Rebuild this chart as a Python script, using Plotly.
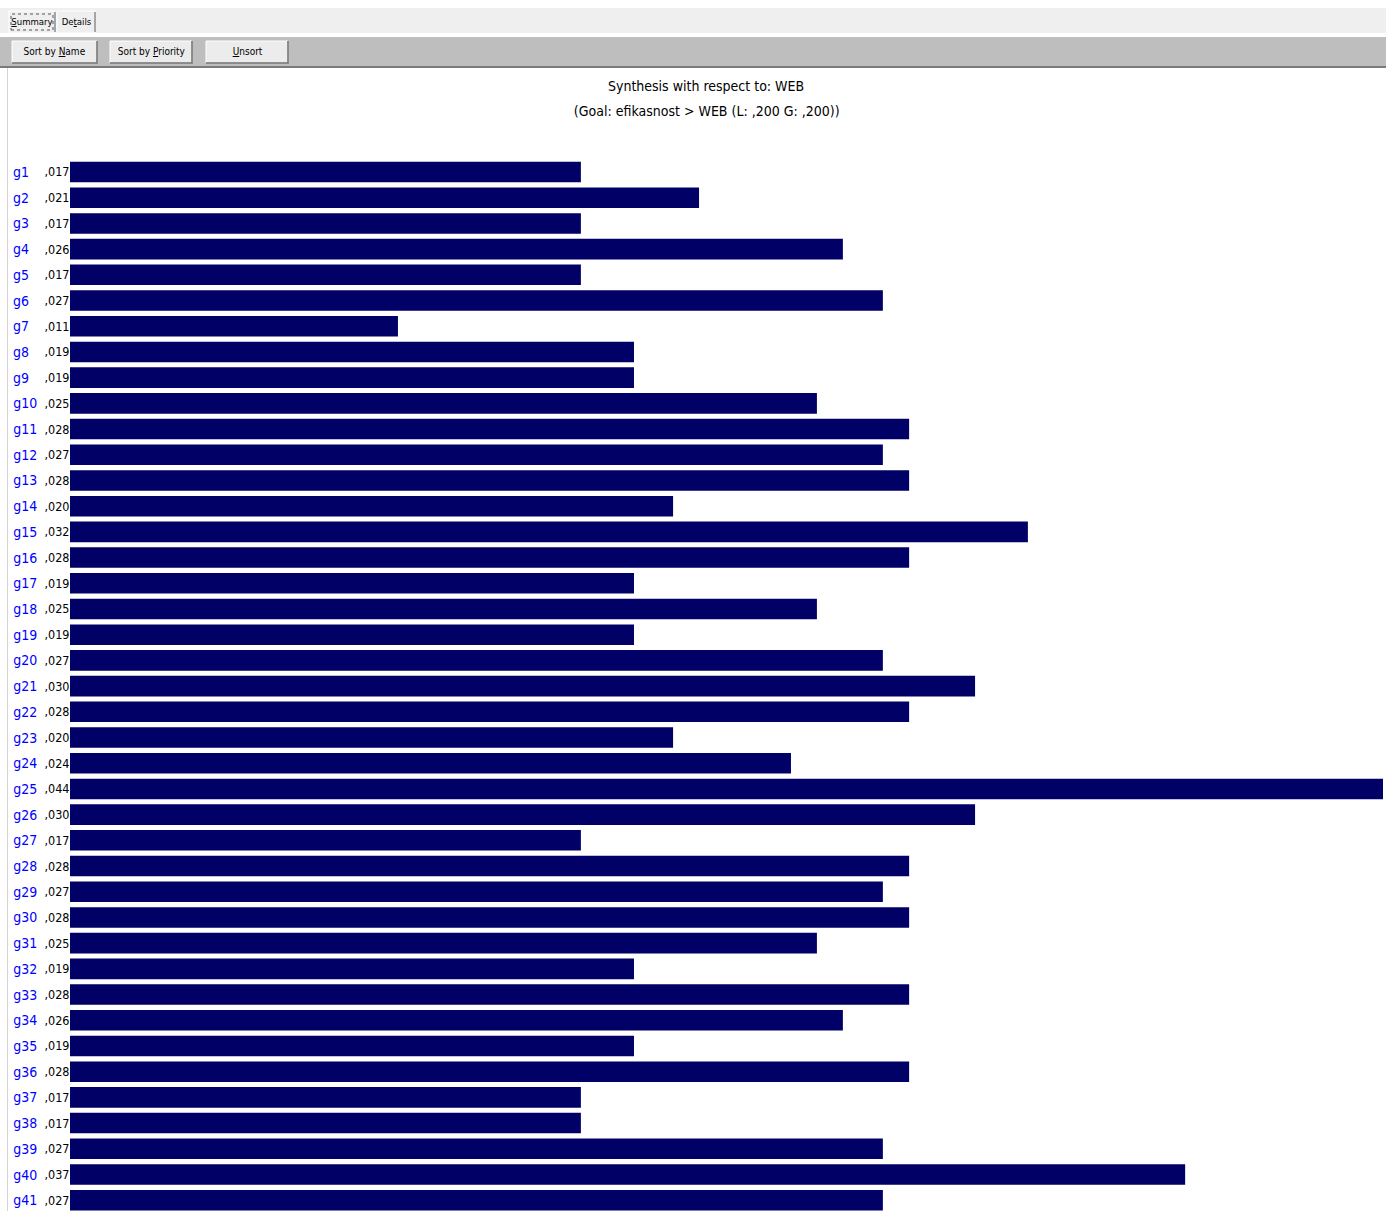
import plotly.graph_objects as go

# ---- data ----
names = [f"g{i}" for i in range(1, 42)]
values = [0.01712, 0.02108, 0.01712, 0.02590, 0.01712, 0.02724, 0.01099, 0.01890,
          0.01890, 0.02503, 0.02812, 0.02724, 0.02812, 0.02021, 0.03210, 0.02812,
          0.01890, 0.02503, 0.01890, 0.02724, 0.03033, 0.02812, 0.02021, 0.02416,
          0.04400, 0.03033, 0.01712, 0.02812, 0.02724, 0.02812, 0.02503, 0.01890,
          0.02812, 0.02590, 0.01890, 0.02812, 0.01712, 0.01712, 0.02724, 0.03737,
          0.02724]
value_labels = [",017", ",021", ",017", ",026", ",017", ",027", ",011", ",019",
                ",019", ",025", ",028", ",027", ",028", ",020", ",032", ",028",
                ",019", ",025", ",019", ",027", ",030", ",028", ",020", ",024",
                ",044", ",030", ",017", ",028", ",027", ",028", ",025", ",019",
                ",028", ",026", ",019", ",028", ",017", ",017", ",027", ",037",
                ",027"]
title_line1 = "Synthesis with respect to: WEB"
title_line2 = "(Goal: efikasnost > WEB (L: ,200 G: ,200))"

W, H = 1386, 1211
FONT = "DejaVu Sans, sans-serif"


def px(x):
    return x / W


def py(y):
    return 1 - y / H


fig = go.Figure()
fig.add_trace(go.Bar(
    x=values, y=names, orientation="h",
    marker=dict(color="#000066", line=dict(width=0)),
    width=0.8, hoverinfo="x+y",
))

shapes = []
annotations = []

# header strips
shapes.append(dict(type="rect", xref="paper", yref="paper", x0=0, x1=1, y0=py(33), y1=py(8),
                   fillcolor="#efefef", line=dict(width=0), layer="above"))
shapes.append(dict(type="rect", xref="paper", yref="paper", x0=0, x1=1, y0=py(36), y1=py(33),
                   fillcolor="#ffffff", line=dict(width=0), layer="above"))
shapes.append(dict(type="rect", xref="paper", yref="paper", x0=0, x1=1, y0=py(66), y1=py(37),
                   fillcolor="#bebebe", line=dict(width=0), layer="above"))
shapes.append(dict(type="line", xref="paper", yref="paper", x0=0, x1=1, y0=py(67), y1=py(67),
                   line=dict(color="#7a7a7a", width=2), layer="above"))
# left border of the panel
shapes.append(dict(type="line", xref="paper", yref="paper", x0=px(7.5), x1=px(7.5), y0=0, y1=py(68),
                   line=dict(color="#d4d4d4", width=1), layer="above"))

# tabs
tabs = [("<u>S</u>ummary", 9, 55, True), ("De<u>t</u>ails", 57, 95, False)]
for label, x0, x1, active in tabs:
    shapes.append(dict(type="rect", xref="paper", yref="paper", x0=px(x0), x1=px(x1),
                       y0=py(33), y1=py(11), fillcolor="#efefef",
                       line=dict(color="#ffffff", width=1), layer="above"))
    shapes.append(dict(type="line", xref="paper", yref="paper", x0=px(x1), x1=px(x1),
                       y0=py(32), y1=py(12), line=dict(color="#555555", width=1), layer="above"))
    if active:
        shapes.append(dict(type="rect", xref="paper", yref="paper", x0=px(x0 + 2), x1=px(x1 - 2),
                           y0=py(30), y1=py(14), fillcolor="rgba(0,0,0,0)",
                           line=dict(color="#555555", width=1, dash="dot"), layer="above"))
    annotations.append(dict(xref="paper", yref="paper", x=px((x0 + x1) / 2), y=py(22),
                            text=label, showarrow=False, xanchor="center", yanchor="middle",
                            font=dict(family=FONT, size=9.5, color="#000000")))

# buttons
buttons = [("Sort by <u>N</u>ame", 12, 97), ("Sort by <u>P</u>riority", 110, 192), ("<u>U</u>nsort", 206, 288)]
for label, x0, x1 in buttons:
    shapes.append(dict(type="rect", xref="paper", yref="paper", x0=px(x0), x1=px(x1),
                       y0=py(63), y1=py(41), fillcolor="#ececec",
                       line=dict(color="#ffffff", width=1), layer="above"))
    shapes.append(dict(type="path", xref="paper", yref="paper",
                       path=f"M {px(x0)},{py(63)} L {px(x1)},{py(63)} L {px(x1)},{py(41)}",
                       line=dict(color="#6e6e6e", width=1.5), layer="above"))
    annotations.append(dict(xref="paper", yref="paper", x=px((x0 + x1) / 2), y=py(52),
                            text=label, showarrow=False, xanchor="center", yanchor="middle",
                            font=dict(family=FONT, size=10, color="#000000")))

# titles
annotations.append(dict(xref="paper", yref="paper", x=px(706), y=py(86), text=title_line1,
                        showarrow=False, xanchor="center", yanchor="middle",
                        font=dict(family=FONT, size=14, color="#000000")))
annotations.append(dict(xref="paper", yref="paper", x=px(707), y=py(111), text=title_line2,
                        showarrow=False, xanchor="center", yanchor="middle",
                        font=dict(family=FONT, size=14, color="#000000")))

# row labels
for n, v in zip(names, value_labels):
    annotations.append(dict(xref="paper", yref="y", x=px(10), y=n, text=n, showarrow=False,
                            xanchor="left", yanchor="middle",
                            font=dict(family=FONT, size=14, color="#0000ff")))
    annotations.append(dict(xref="paper", yref="y", x=px(41), y=n, text=v, showarrow=False,
                            xanchor="left", yanchor="middle",
                            font=dict(family=FONT, size=12.5, color="#000000")))

pitch = 25.705
top_px = 140
y0_px = 172
fig.update_layout(
    width=W, height=H,
    margin=dict(l=0, r=0, t=0, b=0),
    paper_bgcolor="#ffffff", plot_bgcolor="#ffffff",
    showlegend=False,
    shapes=shapes, annotations=annotations,
    xaxis=dict(domain=[px(70), px(1383)], range=[0, 0.044], visible=False, fixedrange=True),
    yaxis=dict(domain=[0, py(top_px)], type="category",
               range=[40 + (H - 1200.2) / pitch, -(y0_px - top_px) / pitch],
               visible=False, fixedrange=True),
    bargap=0.2,
)

post = """
var gd = document.getElementById('{plot_id}');
document.body.style.margin = '0';
document.body.style.padding = '0';
var st = document.createElement('style');
st.textContent = '.js-plotly-plot text { font-stretch: condensed; }';
document.head.appendChild(st);
Plotly.newPlot(gd, gd.data, gd.layout, {displayModeBar: false, staticPlot: false});
"""

fig.write_html("out.html", config={"displayModeBar": False}, post_script=post)
